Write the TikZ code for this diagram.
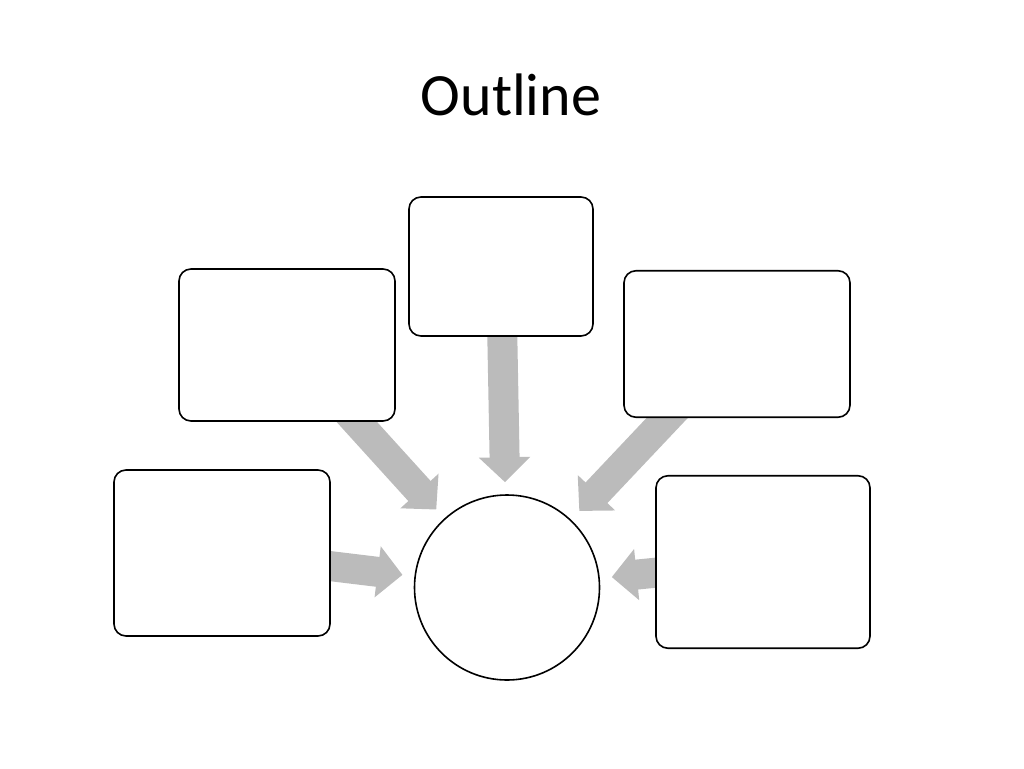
\documentclass[tikz,border=0pt]{standalone}
\usepackage{fontspec}
\setmainfont{Carlito}
\usetikzlibrary{arrows.meta, backgrounds}
\definecolor{arrowgray}{RGB}{187,187,187}
\begin{document}
\begin{tikzpicture}[x=1pt, y=-1pt,
        topic/.style={draw, line width=1.6pt, fill=white, rounded corners=12pt, inner sep=0pt},
        feed/.style={draw=arrowgray, line width=30pt, -{Triangle[width=50pt, length=25pt]}, shorten >=12pt}]
        \useasboundingbox (0, 0) rectangle (1024, 768);
        \node[anchor=base] (title) at (511, 115) {\fontsize{60}{72}\selectfont Outline};
        \node[topic, minimum width=184pt, minimum height=139pt] (top) at (501, 266.5) {};
        \node[topic, minimum width=216pt, minimum height=152pt] (upleft) at (287, 345) {};
        \node[topic, minimum width=226pt, minimum height=146.5pt] (upright) at (737, 344) {};
        \node[topic, minimum width=216pt, minimum height=166pt] (lowleft) at (222, 553) {};
        \node[topic, minimum width=214pt, minimum height=172.5pt] (lowright) at (763, 562) {};
        \node[draw, line width=1.6pt, fill=white, circle, minimum size=185pt, inner sep=0pt] (hub) at (507, 587.5) {};
        \begin{scope}[on background layer]
            \draw[feed] (top.center) -- (hub);
            \draw[feed] (upleft.center) -- (hub);
            \draw[feed] (upright.center) -- (hub);
            \draw[feed] (lowleft.center) -- (hub);
            \draw[feed] (lowright.center) -- (hub);
        \end{scope}
    \end{tikzpicture}
\end{document}
